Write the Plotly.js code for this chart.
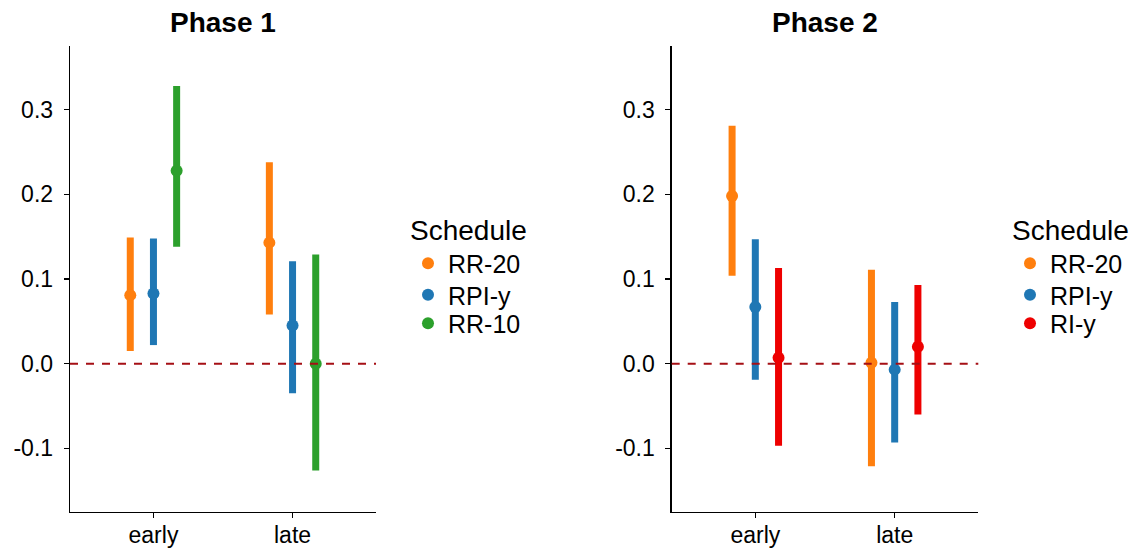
<!DOCTYPE html>
<html>
<head>
<meta charset="utf-8">
<script src="https://cdn.plot.ly/plotly-3.0.1.min.js"></script>
<style>html,body{margin:0;padding:0;background:#fff;}#chart{width:1140px;height:550px;}</style>
</head>
<body>
<div id="chart"></div>
<script>
// ---- data ----
const categories = ['early', 'late'];
const panelTitles = ['Phase 1', 'Phase 2'];
const legendTitle = 'Schedule';

const phase1Series = ['RR-20', 'RPI-y', 'RR-10'];
const phase1Colors = ['#FF7F0E', '#1F77B4', '#2CA02C'];
const phase1Est  = [[0.081, 0.143], [0.083, 0.045], [0.228, 0.000]];
const phase1Low  = [[0.015, 0.058], [0.022, -0.035], [0.138, -0.126]];
const phase1High = [[0.149, 0.238], [0.148, 0.121], [0.328, 0.129]];

const phase2Series = ['RR-20', 'RPI-y', 'RI-y'];
const phase2Colors = ['#FF7F0E', '#1F77B4', '#EE0000'];
const phase2Est  = [[0.198, 0.001], [0.067, -0.007], [0.007, 0.020]];
const phase2Low  = [[0.104, -0.121], [-0.019, -0.093], [-0.097, -0.060]];
const phase2High = [[0.281, 0.111], [0.147, 0.073], [0.113, 0.093]];

const referenceValue = 0;
const yTickVals = [-0.1, 0, 0.1, 0.2, 0.3];
const yTickText = ['-0.1', '0.0', '0.1', '0.2', '0.3'];

// ---- build ----
const FONT = 'Liberation Sans, Arial, sans-serif';
const dodgeWidth = 0.5;
const W = 1140, H = 550;

function legendId(k) { return k === 0 ? 'legend' : 'legend' + (k + 1); }

function buildTraces(series, colors, est, low, high, xa, ya, legendBase) {
  const n = series.length;
  return series.map((name, j) => {
    const off = (j - (n - 1) / 2) * dodgeWidth / n;
    return {
      type: 'scatter', mode: 'markers', name: name,
      x: categories.map((c, i) => i + off),
      y: est[j],
      xaxis: xa, yaxis: ya, legend: legendId(legendBase + j),
      marker: {color: colors[j], size: 12},
      error_y: {
        type: 'data', symmetric: false,
        array: est[j].map((v, i) => high[j][i] - v),
        arrayminus: est[j].map((v, i) => v - low[j][i]),
        color: colors[j], thickness: 7, width: 0
      },
      hoverinfo: 'name+y'
    };
  });
}

const traces = [].concat(
  buildTraces(phase1Series, phase1Colors, phase1Est, phase1Low, phase1High, 'x', 'y', 0),
  buildTraces(phase2Series, phase2Colors, phase2Est, phase2Low, phase2High, 'x2', 'y2', 3)
);

const yDom = [(H - 511.7) / H, (H - 45.7) / H];
const x1Dom = [70 / W, 376 / W];
const x2Dom = [671.7 / W, 978.3 / W];

function xAxis(dom, anchor) {
  return {
    domain: dom, anchor: anchor, range: [-0.6, 1.6],
    tickvals: categories.map((c, i) => i), ticktext: categories,
    showgrid: false, zeroline: false,
    showline: true, linecolor: '#000', linewidth: 1.3,
    ticks: 'outside', ticklen: 5, tickwidth: 1.3, tickcolor: '#000',
    tickfont: {family: FONT, size: 23, color: '#000'},
    ticklabelstandoff: -3, fixedrange: true
  };
}
function yAxis(anchor) {
  return {
    domain: yDom, anchor: anchor, range: [-0.1748, 0.3756],
    tickvals: yTickVals, ticktext: yTickText,
    showgrid: false, zeroline: false,
    showline: true, linecolor: '#000', linewidth: 1.3,
    ticks: 'outside', ticklen: 5, tickwidth: 1.3, tickcolor: '#000',
    tickfont: {family: FONT, size: 23, color: '#000'},
    ticklabelstandoff: 6, fixedrange: true
  };
}
const itemFont = {family: FONT, size: 25, color: '#000'};
function titledLegend(xpx, topPx) {
  return {
    x: xpx / W, xanchor: 'left', y: (H - topPx) / H, yanchor: 'top',
    title: {text: legendTitle, font: {family: FONT, size: 28, color: '#000'}},
    font: itemFont, bgcolor: 'rgba(0,0,0,0)', borderwidth: 0, itemwidth: 30
  };
}
function itemLegend(xpx, midPx) {
  return {
    x: xpx / W, xanchor: 'left', y: (H - midPx) / H, yanchor: 'middle',
    font: itemFont, bgcolor: 'rgba(0,0,0,0)', borderwidth: 0, itemwidth: 30
  };
}
function refLine(xref, yref) {
  return {
    type: 'line', xref: xref + ' domain', yref: yref, x0: 0, x1: 1,
    y0: referenceValue, y1: referenceValue, layer: 'above',
    line: {color: '#A50F15', width: 2, dash: '8px,8px'}
  };
}

const layout = {
  width: W, height: H,
  margin: {l: 0, r: 0, t: 0, b: 0},
  paper_bgcolor: '#fff', plot_bgcolor: '#fff',
  showlegend: true,
  xaxis: xAxis(x1Dom, 'y'), yaxis: yAxis('x'),
  xaxis2: xAxis(x2Dom, 'y2'), yaxis2: yAxis('x2'),
  legend: titledLegend(408, 204), legend2: itemLegend(408, 295), legend3: itemLegend(408, 323.5),
  legend4: titledLegend(1010, 204), legend5: itemLegend(1010, 295), legend6: itemLegend(1010, 323.5),
  shapes: [refLine('x', 'y'), refLine('x2', 'y2')],
  annotations: panelTitles.map((t, k) => {
    const d = k === 0 ? x1Dom : x2Dom;
    return {
      text: '<b>' + t + '</b>', showarrow: false,
      xref: 'paper', yref: 'paper',
      x: (d[0] + d[1]) / 2, y: (H - 22) / H, xanchor: 'center', yanchor: 'middle',
      font: {family: FONT, size: 28, color: '#000'}
    };
  })
};

Plotly.newPlot('chart', traces, layout, {displayModeBar: false, staticPlot: true});
</script>
</body>
</html>
